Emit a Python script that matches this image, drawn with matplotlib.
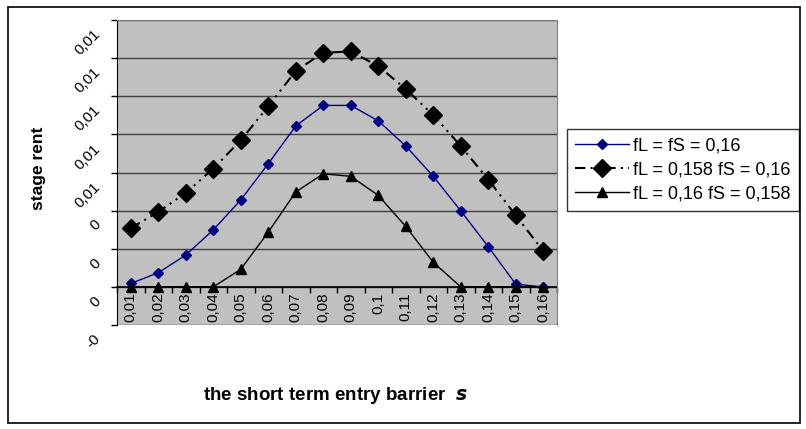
import numpy as np
import matplotlib.pyplot as plt
from matplotlib.patches import Rectangle
from matplotlib.transforms import ScaledTranslation

plt.rcParams['font.family'] = ['Liberation Sans', 'DejaVu Sans']

# barrera de entrada de corto plazo
categories = ['0,01', '0,02', '0,03', '0,04', '0,05', '0,06', '0,07', '0,08',
              '0,09', '0,1', '0,11', '0,12', '0,13', '0,14', '0,15', '0,16']

# fL = fS = 0,16
rent_equal = [0.00018, 0.00074, 0.00167, 0.00299, 0.00456, 0.00646, 0.00844, 0.00952,
              0.00952, 0.00871, 0.00739, 0.00580, 0.00399, 0.00211, 0.00014, 0.0]
# fL = 0,158 fS = 0,16
rent_low_fl = [0.00308, 0.00393, 0.00493, 0.00620, 0.00769, 0.00947, 0.01133, 0.01228,
               0.01235, 0.01158, 0.01038, 0.00901, 0.00739, 0.00563, 0.00375, 0.00188]
# fL = 0,16 fS = 0,158
rent_low_fs = [0.0, 0.0, 0.0, 0.0, 0.00092, 0.00287, 0.00498, 0.00593,
               0.00580, 0.00480, 0.00317, 0.00129, 0.0, 0.0, 0.0, 0.0]

y_ticks = [-0.002, 0.0, 0.002, 0.004, 0.006, 0.008, 0.010, 0.012, 0.014]

fig = plt.figure(figsize=(8.06, 4.29), dpi=100)
fig.patches.append(Rectangle((8 / 806, 6 / 429), 792 / 806, 416 / 429, transform=fig.transFigure,
                             fill=False, edgecolor='black', linewidth=1.2))

ax = fig.add_axes([117 / 806, 104 / 429, 440 / 806, 305 / 429])
ax.set_facecolor('#c0c0c0')

x = np.arange(len(categories))
ax.plot(x, rent_equal, color='#000080', linewidth=1, marker='D', markersize=5.5,
        label='fL = fS = 0,16', zorder=3)
ax.plot(x, rent_low_fl, color='black', linewidth=1.5, dashes=(5, 2.5, 1, 2.5, 1, 2.5), marker='D',
        markersize=9, label='fL = 0,158 fS = 0,16', zorder=3)
ax.plot(x, rent_low_fs, color='black', linewidth=1, marker='^', markersize=7.5,
        label='fL = 0,16 fS = 0,158', zorder=3)

ax.set_xlim(-0.5, len(categories) - 0.5)
ax.set_ylim(y_ticks[0], y_ticks[-1])

# rejilla horizontal
for yv in y_ticks:
    ax.axhline(yv, color='#404040', linewidth=1, zorder=1)

ax.set_yticks(y_ticks)
ax.set_yticklabels([('%g' % round(v, 2)).replace('.', ',') for v in y_ticks],
                   rotation=45, fontsize=11, ha='right', va='center', rotation_mode='anchor')
ax.tick_params(axis='y', direction='out', length=4.5, width=1, pad=9)
for lab in ax.get_yticklabels():
    lab.set_transform(lab.get_transform() + ScaledTranslation(0, -0.12, fig.dpi_scale_trans))

# eje x cruzando en cero
ax.spines['bottom'].set_position(('data', 0))
ax.spines['bottom'].set_linewidth(1.2)
ax.spines['bottom'].set_zorder(2)
ax.set_xticks(x)
ax.set_xticklabels(categories, rotation=90, fontsize=11)
ax.set_xticks(np.arange(-0.5, len(categories)), minor=True)
ax.tick_params(axis='x', which='major', length=0, pad=4)
ax.tick_params(axis='x', which='minor', direction='out', length=4, width=1)
for s in ['top', 'right']:
    ax.spines[s].set_color('#808080')
ax.spines['left'].set_color('black')

fig.text(39 / 806, 1 - 168 / 429, 'stage rent', rotation=90, fontsize=12.5, fontweight='bold',
         ha='center', va='center')
fig.text(335 / 806, 1 - 395 / 429, r'the short term entry barrier  $\boldsymbol{s}$',
         fontsize=13.5, fontweight='bold', ha='center', va='center')

leg = ax.legend(loc='center left', bbox_to_anchor=(567 / 806, 1 - 170 / 429),
                bbox_transform=fig.transFigure, fontsize=13, frameon=True, fancybox=False,
                edgecolor='black', handlelength=3.0, borderpad=0.45, labelspacing=0.4,
                handletextpad=0.2, borderaxespad=0)
leg.get_frame().set_linewidth(1)

fig.savefig('out.png', dpi=100)
